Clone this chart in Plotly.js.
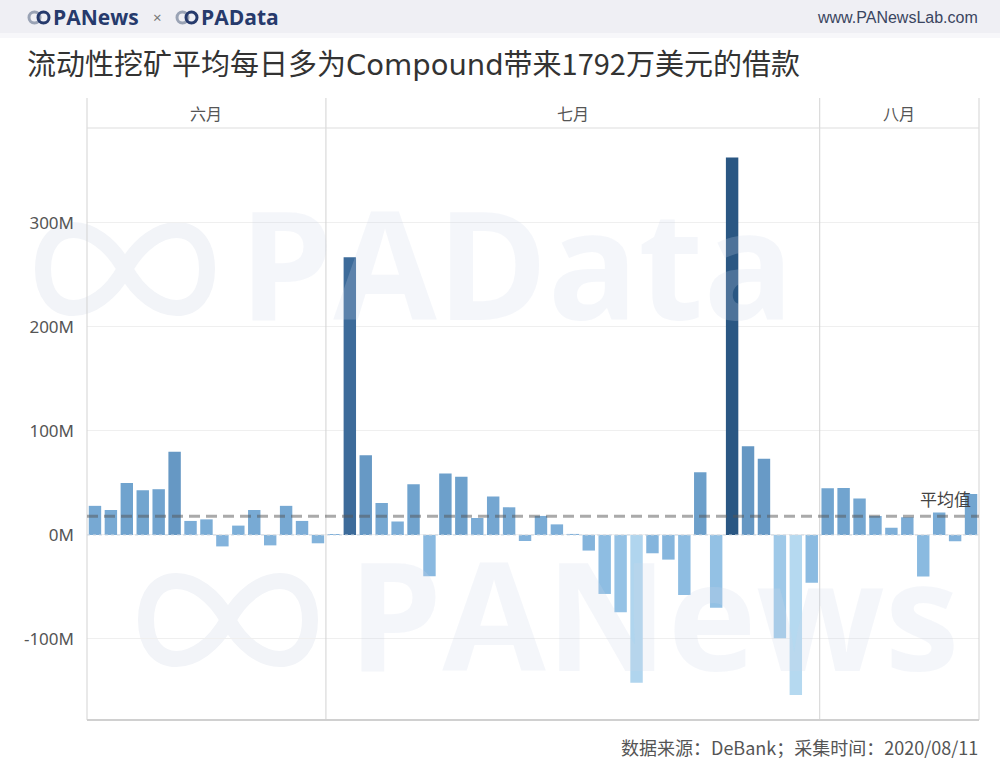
<!DOCTYPE html>
<html><head><meta charset="utf-8">
<script src="https://cdn.plot.ly/plotly-3.0.1.min.js"></script>
<style>html,body{margin:0;padding:0;background:#fff;} #chart{width:1000px;height:781px;}</style>
</head><body><div id="chart"></div>
<script>
// Daily net change in Compound borrowing (million USD)
const junDays = ['6/16','6/17','6/18','6/19','6/20','6/21','6/22','6/23','6/24','6/25','6/26','6/27','6/28','6/29','6/30'];
const junValues = [28, 24, 50, 43, 44, 80, 13.5, 15, -11, 9, 24, -10, 28, 13.5, -8];
const julDays = ['7/1','7/2','7/3','7/4','7/5','7/6','7/7','7/8','7/9','7/10','7/11','7/12','7/13','7/14','7/15','7/16','7/17','7/18','7/19','7/20','7/21','7/22','7/23','7/24','7/25','7/26','7/27','7/28','7/29','7/30','7/31'];
const julValues = [1, 267, 76.6, 30.8, 13, 48.7, -39.7, 59, 56, 16.3, 36.9, 26.6, -5.8, 18.3, 10.2, 1, -15, -56.7, -74.4, -142, -17.6, -23.7, -57.7, 60.3, -69.9, 363, 85.3, 73.4, -99.4, -153.8, -46];
const augDays = ['8/1','8/2','8/3','8/4','8/5','8/6','8/7','8/8','8/9','8/10'];
const augValues = [44.9, 45.2, 35, 18.3, 7, 17, -40, 21.5, -6, 39.4];
const monthLabels = ['六月','七月','八月'];
const averageValue = 17.92;
const yTickVals = [-100, 0, 100, 200, 300];
const yTickText = ['-100M','0M','100M','200M','300M'];

const L = 87, R = 979, T = 128, B = 720;
function px(x){ return (x - L) / (R - L); }
function py(y){ return (B - y) / (B - T); }

const total = junDays.length + julDays.length + augDays.length;
const d1 = junDays.length / total;
const d2 = (junDays.length + julDays.length) / total;

const colorscale = [[0,'#b5d9f0'],[0.19,'#8ebde2'],[0.3,'#80b1da'],[0.4,'#6fa2cd'],[0.46,'#6597c3'],[0.8,'#3e6d9c'],[1,'#2a5783']];
const cmin = -155, cmax = 363;
function barTrace(x, y, xa){
  return {type:'bar', x:x, y:y, xaxis:xa, yaxis:'y',
    marker:{color:y, colorscale:colorscale, cmin:cmin, cmax:cmax, line:{width:0}},
    hovertemplate:'%{x}: %{y}M<extra></extra>', showlegend:false};
}
const data = [
  barTrace(junDays, junValues, 'x'),
  barTrace(julDays, julValues, 'x2'),
  barTrace(augDays, augValues, 'x3')
];

const font = 'Noto Sans CJK SC, Noto Sans, sans-serif';
function xa(domain, n){
  return {domain:domain, type:'category', showticklabels:false, showgrid:false, zeroline:false,
    showline:false, ticks:'', range:[-0.5, n-0.5], anchor:'y', fixedrange:true};
}
// faint infinity-like watermark logo path, in paper coords
function loopPath(cx, cy, a, b){
  const P = (x, y) => px(x) + ',' + py(y);
  return 'M' + P(cx, cy) +
    ' C' + P(cx+0.35*a, cy-b) + ' ' + P(cx+a, cy-b) + ' ' + P(cx+a, cy) +
    ' C' + P(cx+a, cy+b) + ' ' + P(cx+0.35*a, cy+b) + ' ' + P(cx, cy) +
    ' C' + P(cx-0.35*a, cy-b) + ' ' + P(cx-a, cy-b) + ' ' + P(cx-a, cy) +
    ' C' + P(cx-a, cy+b) + ' ' + P(cx-0.35*a, cy+b) + ' ' + P(cx, cy) + ' Z';
}
const lineCol = '#d3d3d3';
const shapes = [
  {type:'rect', xref:'paper', yref:'paper', x0:px(0), x1:px(1000), y0:py(0), y1:py(33), fillcolor:'#efeff4', line:{width:0}, layer:'below'},
  {type:'rect', xref:'paper', yref:'paper', x0:px(0), x1:px(1000), y0:py(33), y1:py(38), fillcolor:'#f7f7fa', line:{width:0}, layer:'below'},
  {type:'path', xref:'paper', yref:'paper', path:loopPath(125, 269, 82, 52), line:{color:'#f2f4f8', width:16}, layer:'below'},
  {type:'path', xref:'paper', yref:'paper', path:loopPath(228, 620, 82, 52), line:{color:'#f2f4f8', width:16}, layer:'below'},
  {type:'line', xref:'paper', yref:'paper', x0:0, x1:0, y0:0, y1:py(98), line:{color:lineCol, width:1}},
  {type:'line', xref:'paper', yref:'paper', x0:d1, x1:d1, y0:0, y1:py(98), line:{color:lineCol, width:1}},
  {type:'line', xref:'paper', yref:'paper', x0:d2, x1:d2, y0:0, y1:py(98), line:{color:lineCol, width:1}},
  {type:'line', xref:'paper', yref:'paper', x0:1, x1:1, y0:0, y1:py(98), line:{color:lineCol, width:1}},
  {type:'line', xref:'paper', yref:'paper', x0:0, x1:1, y0:1, y1:1, line:{color:'#dddddd', width:1}},
  {type:'line', xref:'paper', yref:'paper', x0:0, x1:1, y0:0, y1:0, line:{color:'#d0d0d0', width:2}},
  {type:'line', xref:'paper', yref:'y', x0:0, x1:1, y0:0, y1:0, line:{color:'#cfd8e2', width:1, dash:'dot'}, layer:'above'},
  {type:'line', xref:'paper', yref:'y', x0:0, x1:1, y0:averageValue, y1:averageValue, line:{color:'rgba(85,85,85,0.5)', width:3, dash:'11px,6px'}, layer:'above'},
  // header logo marks
  {type:'circle', xref:'paper', yref:'paper', x0:px(29), x1:px(40), y0:py(23), y1:py(12), line:{color:'#9aa3b5', width:3}},
  {type:'circle', xref:'paper', yref:'paper', x0:px(38), x1:px(49), y0:py(23), y1:py(12), line:{color:'#263a6c', width:3}},
  {type:'circle', xref:'paper', yref:'paper', x0:px(177), x1:px(188), y0:py(23), y1:py(12), line:{color:'#9aa3b5', width:3}},
  {type:'circle', xref:'paper', yref:'paper', x0:px(186), x1:px(197), y0:py(23), y1:py(12), line:{color:'#263a6c', width:3}}
];

function ann(x, y, text, f, xanchor){
  return {xref:'paper', yref:'paper', x:x, y:y, text:text, showarrow:false, xanchor:xanchor||'center', yanchor:'middle', font:f};
}
const wm = {family:'Open Sans', size:150, color:'rgba(205,214,230,0.22)', weight:700};
const annotations = [
  // watermarks
  ann(px(516), py(262), 'PAData', wm),
  ann(px(653), py(613), 'PANews', wm),
  // month headers
  ann(d1/2, py(113), monthLabels[0], {family:font, size:16, color:'#555'}),
  ann((d1+d2)/2, py(113), monthLabels[1], {family:font, size:16, color:'#555'}),
  ann((d2+1)/2, py(113), monthLabels[2], {family:font, size:16, color:'#555'}),
  // average label
  {xref:'paper', yref:'y', x:px(973), y:averageValue, yshift:3, xanchor:'right', yanchor:'bottom', text:'平均值', showarrow:false, font:{family:font, size:17, color:'#444'}},
  // header
  ann(px(51), py(17), '<b>PANews</b>', {family:'Open Sans', size:21, color:'#263a6c'}, 'left'),
  ann(px(157), py(17), '×', {family:'Noto Sans', size:15, color:'#777'}),
  ann(px(199), py(17), '<b>PAData</b>', {family:'Open Sans', size:21, color:'#263a6c'}, 'left'),
  ann(px(980), py(17), 'www.PANewsLab.com', {family:'Liberation Sans', size:16, color:'#3a4560'}, 'right'),
  // source
  ann(px(980), py(747), '数据来源：DeBank；采集时间：2020/08/11', {family:font, size:18, color:'#555'}, 'right')
];

const layout = {
  width:1000, height:781,
  margin:{l:L, r:1000-R, t:T, b:781-B, pad:0},
  paper_bgcolor:'#ffffff', plot_bgcolor:'rgba(0,0,0,0)',
  title:{text:'流动性挖矿平均每日多为<span style="font-family:DejaVu Sans">Compound</span>带来1792万美元的借款', xref:'container', yref:'container', x:0.027, xanchor:'left', y:1-65/781, yanchor:'middle', font:{family:font, size:29, color:'#333'}},
  bargap:0.22,
  xaxis:xa([0,d1], junDays.length),
  xaxis2:xa([d1,d2], julDays.length),
  xaxis3:xa([d2,1], augDays.length),
  yaxis:{range:[-177.9, 391.3], tickvals:yTickVals, ticktext:yTickText, showgrid:true, gridcolor:'#efefef', gridwidth:1,
    zeroline:false, showline:false, ticks:'', ticklabelstandoff:12, tickfont:{family:'Noto Sans', size:17, color:'#555'}, fixedrange:true},
  shapes:shapes, annotations:annotations, showlegend:false
};
Plotly.newPlot('chart', data, layout, {displayModeBar:false, staticPlot:true});
</script></body></html>
